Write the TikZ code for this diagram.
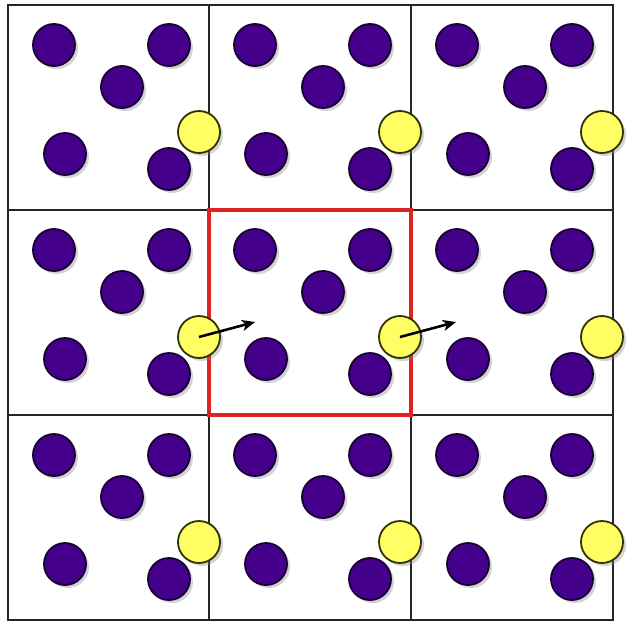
\documentclass[tikz,border=0pt]{standalone}
\usetikzlibrary{shadows,arrows.meta}
\definecolor{purp}{RGB}{68,0,138}
\definecolor{purpdark}{RGB}{25,0,50}
\definecolor{yel}{RGB}{255,255,100}
\definecolor{yeldark}{RGB}{50,50,5}
\definecolor{redb}{RGB}{222,35,35}
\begin{document}
\begin{tikzpicture}[x=1pt,y=-1pt,
  particle/.style={circle,minimum size=42pt,inner sep=0pt,line width=1.8pt,draw=purpdark,fill=purp,
    drop shadow={opacity=0.35,shadow xshift=3pt,shadow yshift=-3pt}},
  imagep/.style={circle,minimum size=42pt,inner sep=0pt,line width=1.8pt,draw=yeldark,fill=yel,
    drop shadow={opacity=0.35,shadow xshift=3pt,shadow yshift=-3pt}},
  gridline/.style={line width=2.3pt,draw=black!85},
  boxline/.style={line width=3.6pt,draw=redb},
  force/.style={line width=2.6pt,-{Stealth[length=13pt,width=11pt,inset=3.5pt]}}]
\useasboundingbox (0,0) rectangle (628,623);
% grid
\draw[gridline] (8,5) rectangle (613,620);
\draw[gridline] (209,5) -- (209,620);
\draw[gridline] (411,5) -- (411,620);
\draw[gridline] (8,210) -- (613,210);
\draw[gridline] (8,415) -- (613,415);
% central box
\draw[boxline] (209,210) rectangle (411,415);
% particles
\foreach \i/\cx in {1/8,2/209,3/411}{
  \foreach \j/\cy in {1/5,2/210,3/415}{
    \node[particle] (a-\i-\j) at (\cx+46,\cy+40) {};
    \node[particle] (b-\i-\j) at (\cx+161,\cy+40) {};
    \node[particle] (c-\i-\j) at (\cx+114,\cy+82) {};
    \node[particle] (d-\i-\j) at (\cx+57,\cy+149) {};
    \node[particle] (e-\i-\j) at (\cx+161,\cy+164) {};
  }
}
\foreach \i/\cx in {1/8,2/209,3/411}{
  \foreach \j/\cy in {1/5,2/210,3/415}{
    \node[imagep] (y-\i-\j) at (\cx+191,\cy+127) {};
  }
}
% forces
\coordinate (t1) at ([shift={(56,-15)}]y-1-2.center);
\coordinate (t2) at ([shift={(56,-15)}]y-2-2.center);
\draw[force] (y-1-2.center) -- (t1);
\draw[force] (y-2-2.center) -- (t2);
\end{tikzpicture}
\end{document}
